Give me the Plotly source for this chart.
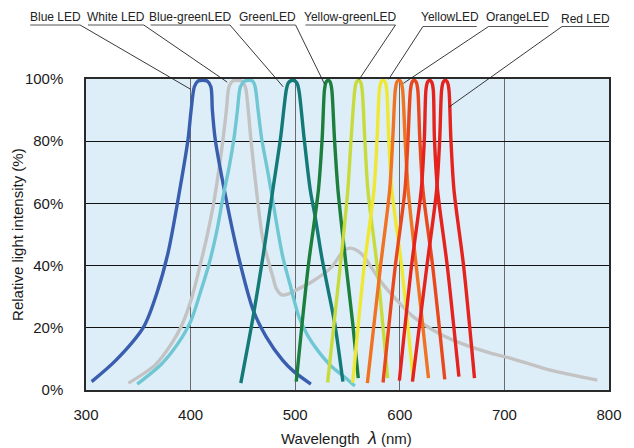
import plotly.graph_objects as go

# ---------------- data (wavelength nm, relative intensity %) ----------------
white_x = [340.5, 366, 381, 391, 401, 410.5, 417, 423, 431, 434.2, 436.7, 440, 444.5, 449, 452.3, 455.1, 457.6,
           462.9, 469.2, 478.6, 482, 487, 493, 500, 516, 534.7, 545.6, 552, 559.6, 566, 581.5, 597.1, 612.7,
           637.6, 662.6, 687.6, 706.4, 743.8, 788.8]
white_y = [2.2, 8, 14.5, 20.4, 29.5, 42, 51.5, 62, 80.7, 90, 97.5, 99.3, 99.6, 99.3, 97.5, 90, 80.7,
           64.3, 48.2, 36.4, 32.6, 30.6, 30.8, 32, 34.8, 39.5, 44.5, 45.6, 44.8, 42.8, 35, 28.9, 23.6,
           18.2, 14.5, 11.8, 10.2, 6.4, 3.2]

blue_x = [305.4, 328.7, 355.3, 367.7, 378.7, 389.6, 397.6, 400.5, 403.6, 407, 411.6, 416, 419.4, 420.8, 423.5,
          433.2, 445.8, 459.8, 472.3, 487.9, 498.8, 515.0]
blue_y = [2.7, 9.6, 20.4, 31.1, 44.5, 64.3, 80.7, 90.0, 97.5, 99.3, 99.6, 99.3, 97.5, 90.0, 80.7,
          62.7, 42.9, 25.7, 17.1, 9.6, 5.9, 1.9]

cyan_x = [349, 372, 388, 400, 409, 418, 425, 431, 437, 441.5, 444.8, 447.6, 451.5, 455.5, 459.5, 461.7, 464.5,
          468, 473.5, 478, 483, 488, 495, 503.5, 512, 522, 535, 546, 557]
cyan_y = [1.9, 8.3, 15, 22, 31, 41, 51, 62, 72, 81, 90, 97.5, 99.3, 99.6, 99.3, 97.5, 90,
          80.7, 70.7, 62, 52, 43, 34, 23.6, 17.5, 12.5, 7.5, 4.5, 1.3]

teal_x = [448, 459.8, 469.2, 478.6, 486, 491.5, 493.5, 497.5, 501.5, 503.5, 508.5, 514.4, 519.1, 525.3,
          531.5, 537.8, 545.6]
teal_y = [2.2, 23.6, 42.9, 64.3, 81, 96.5, 98.8, 99.6, 98.8, 96.5, 81, 64.3, 55.7, 42.9,
          32.2, 21.4, 2.7]

green_x = [501, 506.6, 512.8, 522.2, 525.8, 528, 529.5, 531.5, 533.5, 535, 537.5, 540.9, 548.8, 555, 560.3]
green_y = [2.7, 21.4, 40.7, 64.3, 81, 96.5, 99, 99.6, 99, 96.5, 81, 64.3, 39.6, 21.4, 3.8]

ygreen_x = [531, 543, 550.3, 553.5, 557, 558.5, 560.5, 562.5, 564, 566.5, 569.5, 578.4, 588.4]
ygreen_y = [2.4, 39.6, 64.3, 81, 96.5, 99, 99.6, 99, 96.5, 81, 64.3, 39.6, 3.8]

yellow_x = [555, 565.9, 575.3, 578.3, 580.5, 582, 584, 586, 587.5, 589.4, 592.4, 601.8, 612.7]
yellow_y = [2.4, 39.6, 64.3, 81, 96.5, 99, 99.6, 99, 96.5, 81, 64.3, 39.6, 3.8]

orange_x = [569, 581.5, 590.3, 593.3, 595.7, 597.2, 599.2, 601.2, 602.7, 605, 608, 615.8, 627.4]
orange_y = [2.2, 39.6, 64.3, 81, 96.5, 99, 99.6, 99, 96.5, 81, 64.3, 39.6, 3.8]

redorange_x = [584, 595.6, 604.9, 607.9, 610.2, 611.7, 613.7, 615.7, 617.2, 619.1, 622.1, 631.5, 643]
redorange_y = [2.4, 39.6, 64.3, 81, 96.5, 99, 99.6, 99, 96.5, 81, 64.3, 39.6, 3.4]

red1_x = [599.6, 611.1, 620.5, 623.5, 625, 626.5, 628.5, 630.5, 632, 633.1, 636.1, 645.5, 656.5]
red1_y = [3.0, 39.6, 64.3, 81, 96.5, 99, 99.6, 99, 96.5, 81, 64.3, 39.6, 4.3]

red2_x = [612.1, 625.8, 635.2, 638.2, 640, 641.5, 643.5, 645.5, 647, 648.8, 651.8, 661.1, 671.4]
red2_y = [2.7, 39.6, 64.3, 81, 96.5, 99, 99.6, 99, 96.5, 81, 64.3, 39.6, 3.8]

x_ticks = [300, 400, 500, 600, 700, 800]
y_ticks = [0, 20, 40, 60, 80, 100]

# labels and the point (nm, %) each leader line points to
led_labels = ["Blue LED", "White LED", "Blue-greenLED", "GreenLED",
              "Yellow-greenLED", "YellowLED", "OrangeLED", "Red LED"]
leader_nm = [400, 435, 488.5, 528, 561, 589.3, 603.4, 647.1]
leader_pct = [96.7, 99, 97.5, 98.4, 99.8, 99.9, 98.6, 91]

# ---------------- styling / layout ----------------
W, H = 634, 448
ML, MR, MT, MB = 86, 14, 79, 58
PW, PH = W - ML - MR, H - MT - MB

def px2paper(px, py):
    return (px - ML) / PW, (H - MB - py) / PH

def data2paper(nm, pct):
    return (nm - 300) / 500, pct / 100

series = [
    (white_x, white_y, "#c3c3c3"),
    (blue_x, blue_y, "#3a5eae"),
    (cyan_x, cyan_y, "#6fc7d3"),
    (teal_x, teal_y, "#137a78"),
    (green_x, green_y, "#1c7f3e"),
    (ygreen_x, ygreen_y, "#c8db3d"),
    (yellow_x, yellow_y, "#eee835"),
    (orange_x, orange_y, "#ef7322"),
    (redorange_x, redorange_y, "#e9481f"),
    (red1_x, red1_y, "#e4231e"),
    (red2_x, red2_y, "#e4231e"),
]

fig = go.Figure()
for xs, ys, col in series:
    fig.add_trace(go.Scatter(x=xs, y=ys, mode="lines",
                             line=dict(color=col, width=3.4, shape="spline", smoothing=0.8),
                             showlegend=False, hoverinfo="skip"))

# label text centres (px), underline spans (px), which end the leader leaves from
label_cx = [54.5, 116.5, 192.5, 271.5, 356, 457.5, 527.5, 596]
label_cy = [17, 17, 17, 17, 17, 17, 17, 19]
under_l = [29, 88, 152, 243, 310, 430, 497, 572]
under_r = [80, 145, 233, 300, 402, 485, 558, 620]
under_y = [25, 25, 25, 25, 25, 26.5, 26.5, 26.5]
leave_right = [True, True, True, True, True, False, False, False]

annotations = []
shapes = []
for i, name in enumerate(led_labels):
    px_, py_ = px2paper(label_cx[i], label_cy[i])
    annotations.append(dict(x=px_, y=py_, xref="paper", yref="paper", text=name, showarrow=False,
                            xanchor="center", yanchor="middle",
                            font=dict(family="Liberation Sans, Arial, sans-serif", size=12, color="#222")))
    x0, y0 = px2paper(under_l[i], under_y[i])
    x1, _ = px2paper(under_r[i], under_y[i])
    shapes.append(dict(type="line", xref="paper", yref="paper", x0=x0, y0=y0, x1=x1, y1=y0,
                       line=dict(color="#555", width=1)))
    sx = x1 if leave_right[i] else x0
    tx, ty = data2paper(leader_nm[i], leader_pct[i])
    shapes.append(dict(type="line", xref="paper", yref="paper", x0=sx, y0=y0, x1=tx, y1=ty,
                       line=dict(color="#222", width=0.9)))

# axis titles
tx, ty = px2paper(352, 438)
annotations.append(dict(x=tx, y=ty, xref="paper", yref="paper", showarrow=False,
                        text='Wavelength  <i><span style="font-size:18px">λ</span></i> (nm)',
                        xanchor="center", yanchor="middle",
                        font=dict(family="Liberation Sans, Arial, sans-serif", size=15, color="#1a1a1a")))
tx, ty = px2paper(16, 234.5)
annotations.append(dict(x=tx, y=ty, xref="paper", yref="paper", showarrow=False,
                        text="Relative light intensity (%)", textangle=-90,
                        xanchor="center", yanchor="middle",
                        font=dict(family="Liberation Sans, Arial, sans-serif", size=15, color="#1a1a1a")))

fig.update_layout(
    width=W, height=H,
    margin=dict(l=ML, r=MR, t=MT, b=MB, pad=0),
    paper_bgcolor="white",
    plot_bgcolor="#ddeef9",
    annotations=annotations,
    shapes=shapes,
    font=dict(family="Liberation Sans, Arial, sans-serif", size=15, color="#1a1a1a"),
)
fig.update_xaxes(range=[300, 800], tickvals=x_ticks, ticktext=[str(v) for v in x_ticks],
                 showgrid=True, gridcolor="#6a6a6a", gridwidth=1.4, zeroline=False,
                 showline=True, linecolor="#2a2a2a", linewidth=1.5, mirror=True,
                 ticks="outside", ticklen=0, ticklabelstandoff=10,
                 tickfont=dict(size=15, color="#1a1a1a"), fixedrange=True)
fig.update_yaxes(range=[0, 100], tickvals=y_ticks, ticktext=[f"{v}%" for v in y_ticks],
                 showgrid=True, gridcolor="#111111", gridwidth=1.2, zeroline=False,
                 showline=True, linecolor="#2a2a2a", linewidth=1.5, mirror=True,
                 ticks="outside", ticklen=0, ticklabelstandoff=18,
                 tickfont=dict(size=15, color="#1a1a1a"), fixedrange=True)

fig.write_html("out.html", config={"displayModeBar": False},
               post_script="document.body.style.margin='0';document.body.style.padding='0';"
                           "document.body.style.overflow='hidden';")
